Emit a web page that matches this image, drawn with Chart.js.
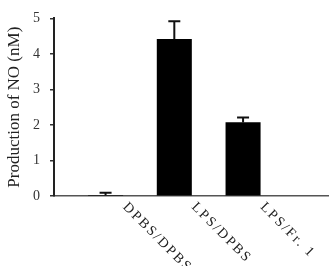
<!DOCTYPE html>
<html>
<head>
<meta charset="utf-8">
<script src="https://cdn.jsdelivr.net/npm/chart.js@4.4.0/dist/chart.umd.min.js"></script>
<style>
  html, body { margin: 0; padding: 0; background: #fff; }
  #wrap { width: 329px; height: 266px; }
</style>
</head>
<body>
<div id="wrap"><canvas id="no-chart"></canvas></div>
<script>
const categories = ['DPBS/DPBS', 'LPS/DPBS', 'LPS/Fr. 1', ''];
const noValues = [0.02, 4.41, 2.07, null];
const noErrors = [0.07, 0.51, 0.14, null];
const emptySlot = [null, null, null, null];
const yTicks = [0, 1, 2, 3, 4, 5];

const serif = '"Liberation Serif", "DejaVu Serif", serif';

// error bars on top of the black bars
const errorBars = {
  id: 'errorBars',
  afterDatasetsDraw(chart) {
    const ctx = chart.ctx;
    const y = chart.scales.y;
    const meta = chart.getDatasetMeta(1);
    ctx.save();
    ctx.strokeStyle = '#111';
    ctx.lineWidth = 2;
    meta.data.forEach((bar, i) => {
      if (noValues[i] == null) return;
      const top = y.getPixelForValue(noValues[i] + noErrors[i]);
      const base = y.getPixelForValue(noValues[i]);
      ctx.beginPath();
      ctx.moveTo(bar.x, base);
      ctx.lineTo(bar.x, top);
      ctx.moveTo(bar.x - 6, top);
      ctx.lineTo(bar.x + 6, top);
      ctx.stroke();
    });
    ctx.restore();
  }
};

// slanted category labels, going down to the right
const slantLabels = {
  id: 'slantLabels',
  afterDraw(chart) {
    const ctx = chart.ctx;
    const x = chart.scales.x;
    const half = (x.getPixelForValue(1) - x.getPixelForValue(0)) / 2;
    ctx.save();
    ctx.fillStyle = '#222';
    ctx.font = '14px ' + serif;
    ctx.letterSpacing = '2px';
    ctx.textAlign = 'left';
    ctx.textBaseline = 'middle';
    categories.forEach((c, i) => {
      if (!c) return;
      ctx.save();
      ctx.translate(x.getPixelForValue(i) + half + 2, chart.chartArea.bottom + 9);
      ctx.rotate(Math.PI / 4);
      ctx.fillText(c, 0, 0);
      ctx.restore();
    });
    ctx.restore();
  }
};

new Chart(document.getElementById('no-chart'), {
  type: 'bar',
  data: {
    labels: categories,
    datasets: [{
      label: '',
      data: emptySlot,
      backgroundColor: 'rgba(0,0,0,0)'
    }, {
      label: 'Production of NO',
      data: noValues,
      backgroundColor: '#000',
      borderWidth: 0
    }]
  },
  options: {
    responsive: true,
    maintainAspectRatio: false,
    animation: false,
    layout: { padding: { top: 17, right: 0, left: 0, bottom: 0 } },
    plugins: {
      legend: { display: false },
      tooltip: { enabled: false }
    },
    datasets: {
      bar: { categoryPercentage: 1.0, barPercentage: 1.0 }
    },
    scales: {
      x: {
        grid: { display: false },
        border: { display: true, color: '#555', width: 1.5 },
        ticks: { display: false },
        afterFit(scale) { scale.height = 70; }
      },
      y: {
        min: 0,
        max: 5,
        afterBuildTicks(scale) { scale.ticks = yTicks.map(v => ({ value: v })); },
        grid: { drawOnChartArea: false, drawTicks: true, tickLength: 4, color: '#333', lineWidth: 1.5 },
        border: { display: true, color: '#222', width: 2 },
        ticks: {
          color: '#333',
          padding: 10,
          font: { family: serif, size: 14 }
        },
        title: {
          display: true,
          text: 'Production of NO (nM)',
          color: '#222',
          font: { family: serif, size: 17 },
          padding: { top: 4, bottom: 4 }
        },
        afterFit(scale) { scale.width = 54; }
      }
    }
  },
  plugins: [errorBars, slantLabels]
});
</script>
</body>
</html>
